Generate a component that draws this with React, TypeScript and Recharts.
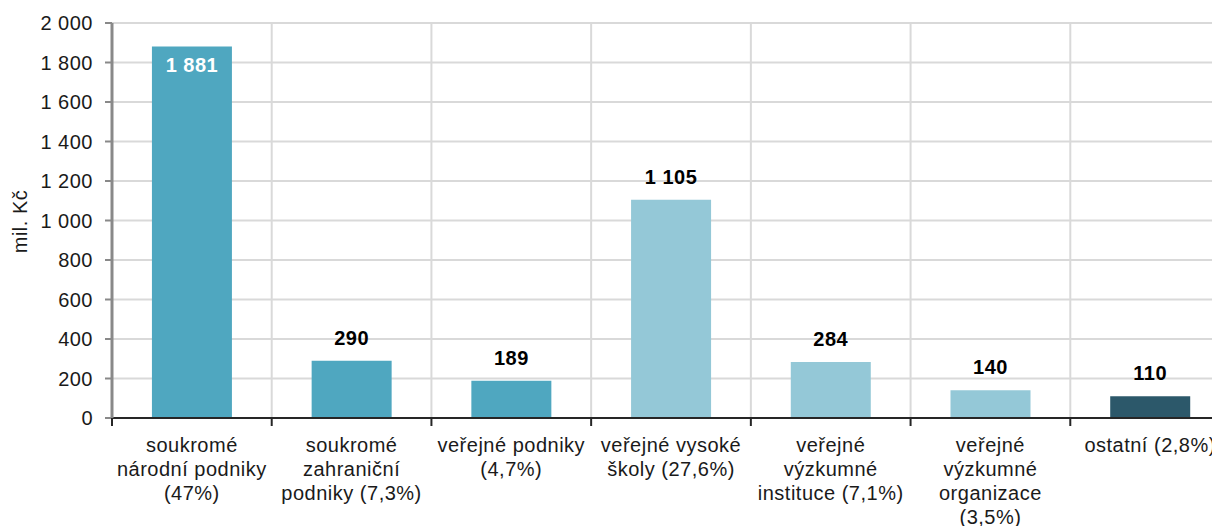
import React from "react";
import { BarChart, Bar, XAxis, YAxis, CartesianGrid, Cell, LabelList } from "recharts";

const categories = [
  "soukromé\nnárodní podniky\n(47%)",
  "soukromé\nzahraniční\npodniky (7,3%)",
  "veřejné podniky\n(4,7%)",
  "veřejné vysoké\nškoly (27,6%)",
  "veřejné\nvýzkumné\ninstituce (7,1%)",
  "veřejné\nvýzkumné\norganizace\n(3,5%)",
  "ostatní (2,8%)",
];
const values = [1881, 290, 189, 1105, 284, 140, 110];
const barColors = ["#4fa7c0", "#4fa7c0", "#4fa7c0", "#94c8d7", "#94c8d7", "#94c8d7", "#2c586a"];
const yTicks = [0, 200, 400, 600, 800, 1000, 1200, 1400, 1600, 1800, 2000];

const data = categories.map((name, i) => ({ name, value: values[i] }));

const FONT = "'Liberation Sans', Arial, sans-serif";
const FS = 20;
const LS = 0.5;

const fmt = (v: number) => v.toLocaleString("en-US").replace(/,/g, " ");

const CategoryTick = (props: any) => {
  const { x, y, payload, width } = props;
  const band = width / categories.length;
  const lines = String(payload.value).split("\n");
  const left = x - band / 2;
  return (
    <g>
      <line x1={left} y1={y} x2={left} y2={y + 8} stroke="#262626" strokeWidth={2} />
      {payload.index === categories.length - 1 && (
        <line x1={x + band / 2} y1={y} x2={x + band / 2} y2={y + 8} stroke="#262626" strokeWidth={2} />
      )}
      <text x={x} y={y} textAnchor="middle" fontSize={FS} fontFamily={FONT} letterSpacing={LS} fill="#1a1a1a">
        {lines.map((l, i) => (
          <tspan key={i} x={x} y={y + 34 + i * 24}>
            {l}
          </tspan>
        ))}
      </text>
    </g>
  );
};

const ValueLabel = (props: any) => {
  const { x, y, width, value, index } = props;
  const inside = index === 0;
  return (
    <text
      x={x + width / 2}
      y={inside ? y + 18 : y - 23}
      textAnchor="middle"
      dominantBaseline="central"
      fontSize={FS}
      fontWeight="bold"
      fontFamily={FONT}
      letterSpacing={LS}
      fill={inside ? "#ffffff" : "#000000"}
    >
      {fmt(value)}
    </text>
  );
};

export default function App() {
  return (
    <BarChart
      width={1222}
      height={518}
      data={data}
      margin={{ top: 15, right: 0, left: 0, bottom: 0 }}
      barCategoryGap="25%"
    >
      <CartesianGrid
        stroke="#d9d9d9"
        strokeWidth={2}
        verticalCoordinatesGenerator={({ offset }: any) =>
          Array.from({ length: categories.length + 1 }, (_, i) => offset.left + (i * offset.width) / categories.length)
        }
      />
      <XAxis
        dataKey="name"
        interval={0}
        height={108}
        tickSize={0}
        tickMargin={0}
        tickLine={false}
        axisLine={{ stroke: "#262626", strokeWidth: 2 }}
        tick={<CategoryTick />}
      />
      <YAxis
        width={104}
        domain={[0, 2000]}
        ticks={yTicks}
        interval={0}
        tickSize={7}
        tickMargin={12}
        tickFormatter={fmt}
        tick={{ fontSize: FS, fontFamily: FONT, fill: "#1a1a1a", letterSpacing: LS }}
        tickLine={{ stroke: "#898989", strokeWidth: 2 }}
        axisLine={{ stroke: "#898989", strokeWidth: 3 }}
        label={{
          content: ({ viewBox }: any) => {
            const cx = viewBox.x + 12;
            const cy = viewBox.y + viewBox.height / 2 + 1;
            return (
              <text
                x={cx}
                y={cy}
                transform={`rotate(-90 ${cx} ${cy})`}
                textAnchor="middle"
                dominantBaseline="central"
                fontSize={FS}
                fontFamily={FONT}
                letterSpacing={LS}
                fill="#1a1a1a"
              >
                mil. Kč
              </text>
            );
          },
        }}
      />
      <Bar dataKey="value" isAnimationActive={false}>
        {data.map((_, i) => (
          <Cell key={`c-${i}`} fill={barColors[i]} />
        ))}
        <LabelList dataKey="value" content={<ValueLabel />} />
      </Bar>
    </BarChart>
  );
}
